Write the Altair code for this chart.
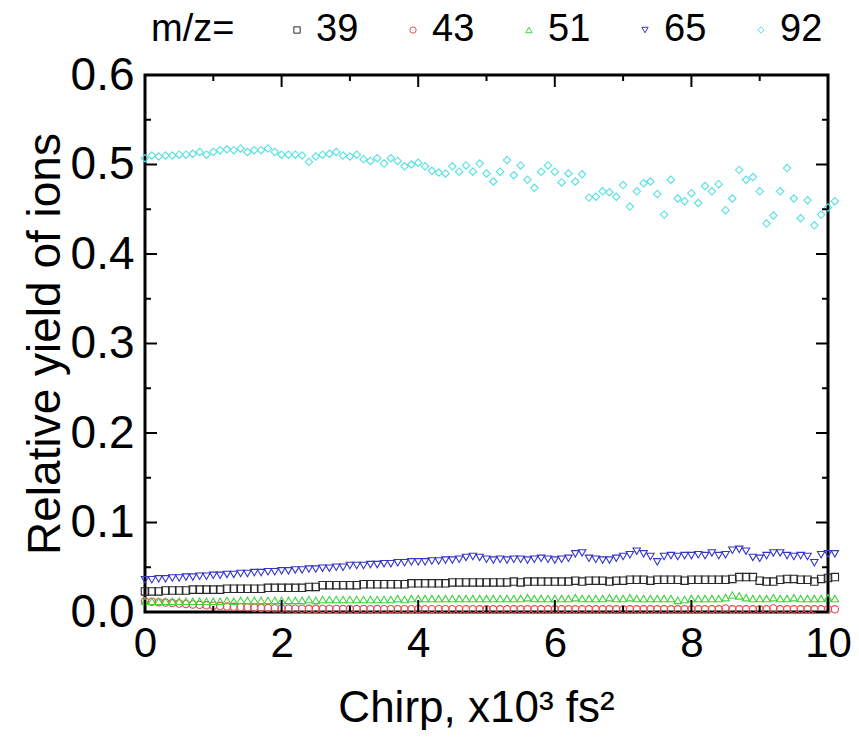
import altair as alt
import pandas as pd

# ---------------- data ----------------
chirp = [0.0, 0.1, 0.2, 0.3, 0.4, 0.5, 0.6, 0.7, 0.8, 0.9,
         1.0, 1.1, 1.2, 1.3, 1.4, 1.5, 1.6, 1.7, 1.8, 1.9,
         2.0, 2.1, 2.2, 2.3, 2.4, 2.5, 2.6, 2.7, 2.8, 2.9,
         3.0, 3.1, 3.2, 3.3, 3.4, 3.5, 3.6, 3.7, 3.8, 3.9,
         4.0, 4.1, 4.2, 4.3, 4.4, 4.5, 4.6, 4.7, 4.8, 4.9,
         5.0, 5.1, 5.2, 5.3, 5.4, 5.5, 5.6, 5.7, 5.8, 5.9,
         6.0, 6.1, 6.2, 6.3, 6.4, 6.5, 6.6, 6.7, 6.8, 6.9,
         7.0, 7.1, 7.2, 7.3, 7.4, 7.5, 7.6, 7.7, 7.8, 7.9,
         8.0, 8.1, 8.2, 8.3, 8.4, 8.5, 8.6, 8.7, 8.8, 8.9,
         9.0, 9.1, 9.2, 9.3, 9.4, 9.5, 9.6, 9.7, 9.8, 9.9,
         10.0, 10.1]

mz39 = [0.023, 0.023, 0.023, 0.024, 0.024, 0.024, 0.024, 0.025, 0.025, 0.025,
        0.025, 0.025, 0.026, 0.026, 0.026, 0.026, 0.026, 0.026, 0.027, 0.027,
        0.027, 0.027, 0.027, 0.027, 0.028, 0.028, 0.030, 0.030, 0.030, 0.030,
        0.030, 0.030, 0.031, 0.031, 0.031, 0.031, 0.031, 0.031, 0.031, 0.032,
        0.032, 0.032, 0.032, 0.032, 0.032, 0.033, 0.033, 0.033, 0.033, 0.033,
        0.033, 0.033, 0.033, 0.033, 0.034, 0.033, 0.034, 0.034, 0.034, 0.034,
        0.034, 0.034, 0.034, 0.035, 0.034, 0.035, 0.035, 0.035, 0.034, 0.035,
        0.035, 0.036, 0.036, 0.036, 0.035, 0.036, 0.036, 0.036, 0.036, 0.035,
        0.036, 0.036, 0.036, 0.036, 0.036, 0.036, 0.037, 0.039, 0.039, 0.039,
        0.035, 0.034, 0.034, 0.036, 0.037, 0.037, 0.036, 0.036, 0.034, 0.037,
        0.038, 0.039]

mz43 = [0.012, 0.0115, 0.011, 0.0105, 0.010, 0.0095, 0.009, 0.0085, 0.008, 0.0075,
        0.007, 0.0066, 0.0062, 0.0058, 0.0055, 0.0052, 0.0049, 0.0046, 0.0044, 0.0042,
        0.004, 0.0038, 0.0037, 0.0036, 0.0035, 0.0035, 0.0034, 0.0034, 0.0034, 0.0033,
        0.0033, 0.0033, 0.0033, 0.0032, 0.0033, 0.0032, 0.0032, 0.0032, 0.0032, 0.0032,
        0.0032, 0.0031, 0.0032, 0.0031, 0.0031, 0.0031, 0.0031, 0.003, 0.0031, 0.003,
        0.003, 0.003, 0.003, 0.003, 0.003, 0.003, 0.003, 0.003, 0.003, 0.003,
        0.003, 0.003, 0.003, 0.003, 0.003, 0.003, 0.003, 0.003, 0.003, 0.003,
        0.003, 0.003, 0.003, 0.003, 0.003, 0.003, 0.003, 0.003, 0.003, 0.003,
        0.003, 0.003, 0.003, 0.003, 0.003, 0.004, 0.003, 0.003, 0.003, 0.003,
        0.003, 0.003, 0.004, 0.003, 0.003, 0.003, 0.003, 0.003, 0.003, 0.003,
        0.003, 0.003]

mz51 = [0.012, 0.012, 0.012, 0.012, 0.012, 0.012, 0.012, 0.012, 0.012, 0.012,
        0.012, 0.012, 0.013, 0.012, 0.013, 0.013, 0.013, 0.013, 0.013, 0.013,
        0.013, 0.013, 0.013, 0.013, 0.014, 0.013, 0.014, 0.014, 0.014, 0.014,
        0.014, 0.014, 0.014, 0.014, 0.014, 0.014, 0.014, 0.015, 0.014, 0.015,
        0.015, 0.015, 0.015, 0.015, 0.015, 0.015, 0.015, 0.015, 0.015, 0.015,
        0.015, 0.015, 0.015, 0.015, 0.015, 0.015, 0.016, 0.015, 0.015, 0.015,
        0.015, 0.015, 0.015, 0.016, 0.015, 0.015, 0.015, 0.015, 0.016, 0.015,
        0.015, 0.016, 0.015, 0.015, 0.015, 0.015, 0.015, 0.015, 0.013, 0.014,
        0.015, 0.015, 0.015, 0.015, 0.015, 0.016, 0.019, 0.018, 0.016, 0.015,
        0.015, 0.015, 0.016, 0.015, 0.015, 0.016, 0.015, 0.015, 0.015, 0.015,
        0.016, 0.015]

mz65 = [0.036, 0.036, 0.037, 0.037, 0.038, 0.038, 0.039, 0.039, 0.040, 0.040,
        0.041, 0.041, 0.042, 0.042, 0.043, 0.043, 0.044, 0.044, 0.045, 0.045,
        0.046, 0.046, 0.047, 0.047, 0.048, 0.048, 0.049, 0.049, 0.050, 0.050,
        0.052, 0.052, 0.052, 0.053, 0.053, 0.054, 0.054, 0.055, 0.055, 0.056,
        0.056, 0.056, 0.057, 0.057, 0.058, 0.058, 0.059, 0.061, 0.062, 0.061,
        0.059, 0.058, 0.059, 0.058, 0.059, 0.059, 0.058, 0.059, 0.060, 0.059,
        0.058, 0.059, 0.060, 0.065, 0.066, 0.060, 0.059, 0.058, 0.058, 0.060,
        0.062, 0.064, 0.068, 0.065, 0.062, 0.056, 0.062, 0.063, 0.062, 0.063,
        0.063, 0.064, 0.063, 0.066, 0.063, 0.064, 0.069, 0.070, 0.068, 0.061,
        0.060, 0.063, 0.066, 0.066, 0.063, 0.062, 0.063, 0.062, 0.055, 0.064,
        0.065, 0.065]

mz92 = [0.507, 0.510, 0.509, 0.510, 0.510, 0.511, 0.511, 0.512, 0.514, 0.511,
        0.514, 0.516, 0.517, 0.516, 0.518, 0.514, 0.516, 0.516, 0.518, 0.514,
        0.511, 0.511, 0.511, 0.510, 0.503, 0.509, 0.511, 0.512, 0.514, 0.510,
        0.509, 0.511, 0.506, 0.504, 0.507, 0.501, 0.507, 0.504, 0.498, 0.500,
        0.502, 0.498, 0.493, 0.491, 0.490, 0.498, 0.492, 0.499, 0.492, 0.501,
        0.490, 0.481, 0.492, 0.505, 0.488, 0.499, 0.483, 0.474, 0.492, 0.499,
        0.492, 0.480, 0.490, 0.481, 0.489, 0.463, 0.464, 0.470, 0.469, 0.464,
        0.477, 0.453, 0.470, 0.479, 0.481, 0.467, 0.444, 0.483, 0.462, 0.459,
        0.468, 0.457, 0.476, 0.470, 0.478, 0.449, 0.462, 0.494, 0.483, 0.486,
        0.470, 0.434, 0.443, 0.470, 0.496, 0.462, 0.440, 0.460, 0.432, 0.444,
        0.452, 0.459]

series_names = ["39", "43", "51", "65", "92"]
series_values = [mz39, mz43, mz51, mz65, mz92]
series_colors = ["#2a2a2a", "#e05252", "#3fd43f", "#3535c8", "#55e0e0"]
series_shapes = ["square", "circle", "triangle-up", "triangle-down", "diamond"]

x_major = [0, 2, 4, 6, 8, 10]
x_minor = [1, 3, 5, 7, 9]
y_major = [0.0, 0.1, 0.2, 0.3, 0.4, 0.5, 0.6]
y_minor = [0.05, 0.15, 0.25, 0.35, 0.45, 0.55]

# ---------------- build table ----------------
rows = []
for name, vals in zip(series_names, series_values):
    for xv, yv in zip(chirp, vals):
        rows.append({"chirp": xv, "yield": yv, "mz": name})
df = pd.DataFrame(rows)

W, H = 683, 537
FONT = "Liberation Sans"
xscale = alt.Scale(domain=[0, 10], nice=False, zero=False)
yscale = alt.Scale(domain=[0, 0.6], nice=False, zero=False)

legend = alt.Legend(
    title="m/z=", orient="none", legendX=6, legendY=-64,
    direction="horizontal", columns=5, titleOrient="left",
    titleFontSize=38, titleFont=FONT, titleFontWeight="normal", titleColor="black",
    titlePadding=43, titleBaseline="middle",
    labelFontSize=38, labelFont=FONT, labelColor="black", labelOffset=0,
    symbolSize=40, symbolStrokeWidth=1, columnPadding=35,
)

points = alt.Chart(df).mark_point(filled=False, size=55, strokeWidth=1.1, opacity=1).encode(
    x=alt.X("chirp:Q", scale=xscale,
            axis=alt.Axis(values=x_major, format="d", title="Chirp, x10³ fs²",
                          ticks=False, domain=False, grid=False, labelPadding=11,
                          labelFlush=False, labelOverlap=False,
                          labelFontSize=42, titleFontSize=44, titleX=331, titleY=109,
                          titleBaseline="alphabetic", titleAlign="center")),
    y=alt.Y("yield:Q", scale=yscale,
            axis=alt.Axis(values=y_major, format=".1f", title="Relative yield of ions",
                          ticks=False, domain=False, grid=False, labelPadding=11,
                          labelFlush=False, labelOverlap=False,
                          labelFontSize=46, titleFontSize=46, titleX=-100,
                          titleBaseline="middle", titleAngle=-90)),
    color=alt.Color("mz:N", scale=alt.Scale(domain=series_names, range=series_colors), legend=legend),
    shape=alt.Shape("mz:N", scale=alt.Scale(domain=series_names, range=series_shapes), legend=legend),
)

def xticks(vals, length, top):
    d = pd.DataFrame({"v": vals})
    y0 = 0 if top else H
    y1 = length if top else H - length
    return alt.Chart(d).mark_rule(color="black", strokeWidth=2).encode(
        x=alt.X("v:Q", scale=xscale), y=alt.value(y0), y2=alt.value(y1))

def yticks(vals, length, right):
    d = pd.DataFrame({"v": vals})
    x0 = W if right else 0
    x1 = W - length if right else length
    return alt.Chart(d).mark_rule(color="black", strokeWidth=2).encode(
        y=alt.Y("v:Q", scale=yscale), x=alt.value(x0), x2=alt.value(x1))

ticks = [
    xticks(x_major, 12, False), xticks(x_minor, 6, False),
    xticks(x_major, 12, True), xticks(x_minor, 6, True),
    yticks(y_major, 12, False), yticks(y_minor, 6, False),
    yticks(y_major, 12, True), yticks(y_minor, 6, True),
]

chart = alt.layer(points, *ticks).properties(
    width=W, height=H,
    autosize=alt.AutoSizeParams(type="none"),
    padding={"left": 137, "top": 67, "right": 23, "bottom": 118},
).configure_view(stroke="black", strokeWidth=3).configure_axis(
    labelFont=FONT, titleFont=FONT, labelColor="black", titleColor="black",
    titleFontWeight="normal",
)

chart.save("out.html", embed_options={"renderer": "svg", "actions": False})
